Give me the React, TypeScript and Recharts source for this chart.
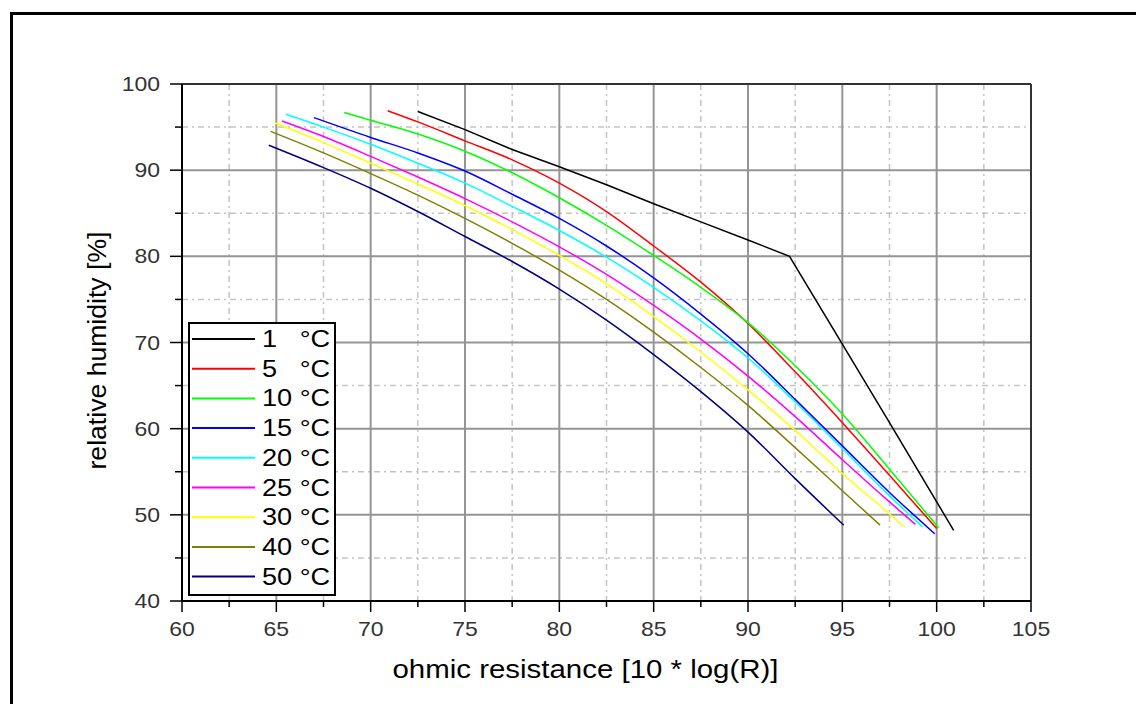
import React from 'react';
import { LineChart, Line, XAxis, YAxis, CartesianGrid, ReferenceLine, Legend } from 'recharts';

// axis ticks
const X_TICKS = [60, 62.5, 65, 67.5, 70, 72.5, 75, 77.5, 80, 82.5, 85, 87.5, 90, 92.5, 95, 97.5, 100, 102.5, 105];
const X_MINOR = [62.5, 67.5, 72.5, 77.5, 82.5, 87.5, 92.5, 97.5, 102.5];
const X_MAJOR = [60, 65, 70, 75, 80, 85, 90, 95, 100, 105];
const Y_TICKS = [40, 45, 50, 55, 60, 65, 70, 75, 80, 85, 90, 95, 100];
const Y_MINOR = [45, 55, 65, 75, 85, 95];
const Y_MAJOR = [40, 50, 60, 70, 80, 90, 100];

// series: ohmic resistance (x) and relative humidity (y)
const r1 = [72.5, 75, 77.5, 80, 82.5, 85, 87.5, 90, 92.2, 95, 97.5, 100.9];
const h1 = [96.8, 94.7, 92.4, 90.4, 88.3, 86.1, 84.0, 81.9, 80.0, 69.8, 60.7, 48.2];

const r5 = [70.9, 72.5, 75, 77.5, 80, 82.5, 85, 87.5, 90, 92.5, 95, 97.5, 100.0];
const h5 = [96.9, 95.6, 93.4, 91.2, 88.5, 85.2, 81.2, 77.0, 72.2, 66.6, 60.7, 54.6, 48.4];

const r10 = [68.6, 70, 72.5, 75, 77.5, 80, 82.5, 85, 87.5, 90, 92.5, 95, 97.5, 100.1];
const h10 = [96.7, 95.8, 94.2, 92.2, 89.7, 86.8, 83.6, 80.1, 76.4, 72.3, 67.3, 61.7, 55.3, 48.5];

const r15 = [67.0, 70, 72.5, 75, 77.5, 80, 82.5, 85, 87.5, 90, 92.5, 95, 97.5, 99.9];
const h15 = [96.1, 93.8, 92.0, 89.9, 87.2, 84.4, 81.2, 77.5, 73.3, 68.7, 63.4, 58.0, 52.6, 47.8];

const r20 = [65.5, 67.5, 70, 72.5, 75, 77.5, 80, 82.5, 85, 87.5, 90, 92.5, 95, 97.5, 99.25];
const h20 = [96.5, 95.0, 93.0, 90.8, 88.5, 85.8, 83.0, 79.9, 76.4, 72.5, 68.2, 63.1, 57.7, 52.2, 48.6];

const r25 = [65.3, 67.5, 70, 72.5, 75, 77.5, 80, 82.5, 85, 87.5, 90, 92.5, 95, 97.5, 98.87];
const h25 = [95.7, 93.9, 91.6, 89.2, 86.7, 84.0, 81.1, 77.9, 74.3, 70.4, 66.1, 61.4, 56.4, 51.5, 48.9];

const r30 = [64.9, 67.5, 70, 72.5, 75, 77.5, 80, 82.5, 85, 87.5, 90, 92.5, 95, 97.5, 98.28];
const h30 = [95.5, 93.2, 90.8, 88.4, 85.9, 83.1, 80.1, 76.8, 73.0, 68.9, 64.5, 59.8, 54.8, 50.1, 48.6];

const r40 = [64.7, 67.5, 70, 72.5, 75, 77.5, 80, 82.5, 85, 87.5, 90, 92.5, 95, 97.0];
const h40 = [94.5, 92.0, 89.6, 87.1, 84.4, 81.5, 78.4, 75.0, 71.2, 67.1, 62.7, 57.8, 52.8, 48.8];

const r50 = [64.6, 67.5, 70, 72.5, 75, 77.5, 80, 82.5, 85, 87.5, 90, 92.5, 95.07];
const h50 = [92.9, 90.3, 87.9, 85.2, 82.3, 79.4, 76.2, 72.6, 68.6, 64.3, 59.6, 54.2, 48.8];

const NAMES = ['1   °C', '5   °C', '10 °C', '15 °C', '20 °C', '25 °C', '30 °C', '40 °C', '50 °C'];
const COLORS = ['#000000', '#ff0000', '#00ff00', '#0000ff', '#00ffff', '#ff00ff', '#ffff00', '#808000', '#000080'];

const toPoints = (xs: number[], ys: number[]) => xs.map((x, i) => ({ x, y: ys[i] }));

const SERIES = [
  toPoints(r1, h1),
  toPoints(r5, h5),
  toPoints(r10, h10),
  toPoints(r15, h15),
  toPoints(r20, h20),
  toPoints(r25, h25),
  toPoints(r30, h30),
  toPoints(r40, h40),
  toPoints(r50, h50),
];

const FONT = '"Liberation Sans", Arial, sans-serif';

const XTick = (props: any) => {
  const { x, y, payload } = props;
  const major = X_MAJOR.includes(payload.value);
  return (
    <g>
      <line x1={x} y1={y} x2={x} y2={y + (major ? 11 : 6)} stroke="#000" strokeWidth={1.5} />
      {major && (
        <text
          transform={`translate(${x},${y + 35}) scale(1.15,1)`}
          textAnchor="middle"
          fontFamily={FONT}
          fontSize={20}
          fill="#333"
        >
          {payload.value}
        </text>
      )}
    </g>
  );
};

const YTick = (props: any) => {
  const { x, y, payload } = props;
  const major = Y_MAJOR.includes(payload.value);
  return (
    <g>
      <line x1={x - (major ? 12 : 7)} y1={y} x2={x} y2={y} stroke="#000" strokeWidth={1.5} />
      {major && (
        <text
          transform={`translate(${x - 22},${y + 7}) scale(1.15,1)`}
          textAnchor="end"
          fontFamily={FONT}
          fontSize={20}
          fill="#333"
        >
          {payload.value}
        </text>
      )}
    </g>
  );
};

const XTitle = (props: any) => {
  const { viewBox } = props;
  return (
    <text
      x={viewBox.x + viewBox.width / 2 - 21}
      y={viewBox.y + 77}
      textAnchor="middle"
      fontFamily={FONT}
      fontSize={25}
      fill="#000"
      textLength={386}
      lengthAdjust="spacingAndGlyphs"
    >
      ohmic resistance [10 * log(R)]
    </text>
  );
};

const YTitle = (props: any) => {
  const { viewBox } = props;
  const cx = viewBox.x + 104 - 6;
  const cy = viewBox.y + viewBox.height / 2 + 8;
  return (
    <text
      transform={`translate(${cx},${cy}) rotate(-90)`}
      textAnchor="middle"
      fontFamily={FONT}
      fontSize={26}
      fill="#000"
      textLength={238}
      lengthAdjust="spacingAndGlyphs"
    >
      relative humidity [%]
    </text>
  );
};

const LegendBox = () => (
  <svg width={148} height={274} style={{ display: 'block' }}>
    <rect x={1} y={1} width={146} height={272} fill="#fff" stroke="#000" strokeWidth={2} />
    {NAMES.map((name, i) => {
      const cy = 17 + i * 29.7;
      return (
        <g key={name}>
          <line x1={4} x2={67} y1={cy} y2={cy} stroke={COLORS[i]} strokeWidth={2} />
          <text
            transform={`translate(74,${cy + 8}) scale(1.18,1)`}
            fontFamily={FONT}
            fontSize={23}
            fill="#000"
            xmlSpace="preserve"
            style={{ whiteSpace: 'pre' }}
          >
            {name}
          </text>
        </g>
      );
    })}
  </svg>
);

export default function App() {
  return (
    <div
      style={{
        position: 'absolute',
        left: 0,
        top: 0,
        width: 1136,
        height: 704,
        overflow: 'hidden',
        background: '#fff',
      }}
    >
      <div
        style={{
          position: 'absolute',
          left: 10,
          top: 12,
          width: 1200,
          height: 800,
          borderLeft: '3px solid #000',
          borderTop: '3px solid #000',
        }}
      />
      <div style={{ position: 'absolute', left: 8, top: 8 }}>
        <LineChart width={1128} height={696} margin={{ top: 76, right: 105, bottom: 23, left: 0 }}>
          <CartesianGrid
            verticalValues={X_MINOR}
            horizontalValues={Y_MINOR}
            stroke="#c4c4c4"
            strokeWidth={1.5}
            strokeDasharray="6 4 2 4"
          />
          <CartesianGrid verticalValues={X_MAJOR} horizontalValues={Y_MAJOR} stroke="#959595" strokeWidth={2} />
          <XAxis
            dataKey="x"
            type="number"
            domain={[60, 105]}
            ticks={X_TICKS}
            interval={0}
            allowDataOverflow
            height={80}
            tickSize={0}
            tickMargin={0}
            tickLine={false}
            tick={<XTick />}
            axisLine={{ stroke: '#000', strokeWidth: 2 }}
            label={{ content: <XTitle /> }}
          />
          <YAxis
            type="number"
            domain={[40, 100]}
            ticks={Y_TICKS}
            interval={0}
            allowDataOverflow
            width={174}
            tickSize={0}
            tickMargin={0}
            tickLine={false}
            tick={<YTick />}
            axisLine={{ stroke: '#000', strokeWidth: 2 }}
            label={{ content: <YTitle /> }}
          />
          <ReferenceLine y={100} stroke="#333" strokeWidth={2} />
          <ReferenceLine x={105} stroke="#333" strokeWidth={2} />
          {SERIES.map((data, i) => (
            <Line
              key={NAMES[i]}
              data={data}
              dataKey="y"
              name={NAMES[i]}
              type={i === 0 ? 'linear' : 'monotone'}
              stroke={COLORS[i]}
              strokeWidth={1.5}
              dot={false}
              activeDot={false}
              isAnimationActive={false}
            />
          ))}
          <Legend
            layout="vertical"
            align="center"
            verticalAlign="middle"
            wrapperStyle={{ left: 180, top: 314, width: 148, height: 274 }}
            content={<LegendBox />}
          />
        </LineChart>
      </div>
    </div>
  );
}
